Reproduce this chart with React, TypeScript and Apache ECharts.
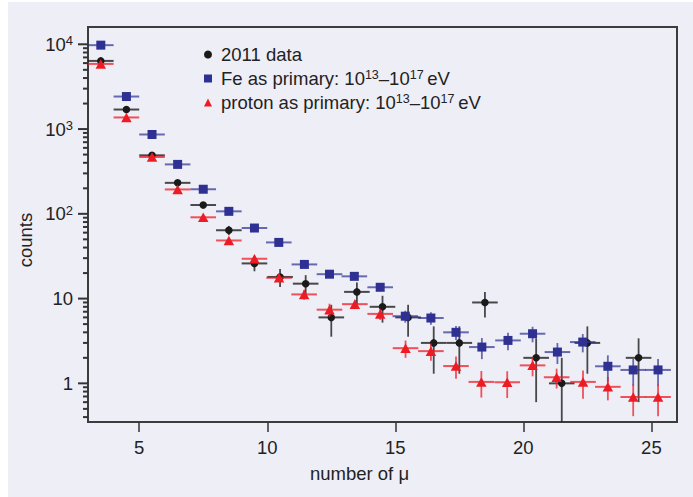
import React, { useEffect, useRef } from 'react';
import * as echarts from 'echarts';

// ---- axis ticks ----
const xTicks = [5, 10, 15, 20, 25];
const yTickExponents = [0, 1, 2, 3, 4];
const yMinorMultipliers = [2, 3, 4, 5, 6, 7, 8, 9];
const yMinorDecades = [-1, 0, 1, 2, 3, 4];
const X_MIN = 3;
const X_MAX = 26;
const Y_MIN = 0.35;
const Y_MAX = 16000;
const BIN_HALF = 0.5;

// ---- 2011 data ----
const dataX = [3.5, 4.5, 5.5, 6.5, 7.5, 8.5, 9.5, 10.5, 11.5, 12.5, 13.5, 14.5, 15.5, 16.5, 17.5, 18.5, 20.5, 21.5, 22.5, 24.5];
const dataY = [6370, 1700, 490, 232, 127, 64, 26, 18, 15, 6, 12, 8, 6, 3, 3, 9, 2, 1, 3, 2];
const dataErr = [80, 41, 22, 15, 11, 8, 5, 4.3, 3.9, 2.45, 3.5, 2.8, 2.45, 1.7, 1.7, 3, 1.4, 1, 1.7, 1.4];

// ---- Fe as primary ----
const feX = [3.5, 4.5, 5.5, 6.5, 7.5, 8.5, 9.5, 10.45, 11.45, 12.43, 13.4, 14.41, 15.39, 16.39, 17.37, 18.38, 19.4, 20.36, 21.33, 22.32, 23.3, 24.29, 25.26];
const feY = [9770, 2420, 863, 383, 195, 107, 68, 46, 25.3, 19.4, 18.3, 13.6, 6.2, 5.9, 4.0, 2.68, 3.21, 3.85, 2.34, 3.07, 1.59, 1.44, 1.44];
const feErr = [30, 15, 9, 6, 4.4, 3.3, 2.6, 2.1, 1.6, 1.4, 1.4, 1.2, 1.0, 1.0, 0.75, 0.75, 0.75, 0.8, 0.65, 0.75, 0.55, 0.5, 0.5];

// ---- proton as primary ----
const prX = [3.5, 4.5, 5.5, 6.5, 7.5, 8.5, 9.5, 10.46, 11.44, 12.43, 13.42, 14.41, 15.4, 16.39, 17.37, 18.36, 19.37, 20.36, 21.3, 22.33, 23.3, 24.29, 25.26];
const prY = [5870, 1371, 468, 194, 91, 48.5, 29.5, 17.6, 11.2, 7.4, 8.6, 6.6, 2.6, 2.4, 1.6, 1.04, 1.03, 1.63, 1.18, 1.04, 0.91, 0.69, 0.69];
const prErr = [25, 12, 7, 4.5, 3, 2.2, 2.5, 1.8, 1.5, 1.3, 1.1, 1.0, 0.6, 0.55, 0.47, 0.36, 0.36, 0.42, 0.31, 0.38, 0.28, 0.28, 0.28];

const NAME_DATA = '2011 data';
const NAME_FE = 'Fe as primary';
const NAME_PR = 'proton as primary';

const FONT = '"Liberation Sans", Arial, sans-serif';
const TEXT_COLOR = '#222';
const TICK_COLOR = '#333';

const lg = (v: number) => Math.log10(v);

function errorSeries(name: string, xs: number[], ys: number[], errs: number[], color: string, z: number) {
  return {
    type: 'custom',
    name,
    silent: true,
    clip: true,
    z,
    encode: { x: 0, y: 1 },
    data: xs.map((x, i) => [
      x,
      lg(ys[i]),
      lg(Math.max(ys[i] - errs[i], Y_MIN * 0.5)),
      lg(ys[i] + errs[i]),
    ]),
    renderItem: (params: any, api: any) => {
      const x = api.value(0);
      const y = api.value(1);
      const lo = api.value(2);
      const hi = api.value(3);
      const pL = api.coord([x - BIN_HALF, y]);
      const pR = api.coord([x + BIN_HALF, y]);
      const pLo = api.coord([x, lo]);
      const pHi = api.coord([x, hi]);
      return {
        type: 'group',
        children: [
          { type: 'line', shape: { x1: pL[0], y1: pL[1], x2: pR[0], y2: pR[1] }, style: { stroke: color, lineWidth: 2 } },
          { type: 'line', shape: { x1: pLo[0], y1: pLo[1], x2: pHi[0], y2: pHi[1] }, style: { stroke: color, lineWidth: 1.8 } },
        ],
      };
    },
  };
}

function markerSeries(name: string, xs: number[], ys: number[], symbol: string, size: any, color: string, z: number) {
  return {
    type: 'scatter',
    name,
    z,
    symbol,
    symbolSize: size,
    itemStyle: { color, opacity: 1 },
    data: xs.map((x, i) => [x, lg(ys[i])]),
  };
}

// y-axis log ticks drawn through the y scale, outward from the left edge
function yTickSeries(name: string, values: number[], len: number) {
  return {
    type: 'custom',
    name,
    silent: true,
    clip: false,
    z: 20,
    encode: { x: 0, y: 1 },
    data: values.map((v) => [X_MIN, v]),
    renderItem: (params: any, api: any) => {
      const c = api.coord([api.value(0), api.value(1)]);
      return {
        type: 'line',
        shape: { x1: c[0] - len, y1: c[1], x2: c[0], y2: c[1] },
        style: { stroke: TICK_COLOR, lineWidth: 2 },
      };
    },
  };
}

const legendRich = {
  t: { fontFamily: FONT, fontSize: 18.5, lineHeight: 20, color: TEXT_COLOR },
  s: { fontFamily: FONT, fontSize: 12.5, lineHeight: 12, color: TEXT_COLOR, verticalAlign: 'top' },
};

const minorVals: number[] = [];
yMinorDecades.forEach((d) => {
  yMinorMultipliers.forEach((m) => {
    const v = m * Math.pow(10, d);
    if (v >= Y_MIN && v <= Y_MAX) minorVals.push(Math.log10(v));
  });
});

export default function App() {
  const ref = useRef<HTMLDivElement>(null);

  useEffect(() => {
    if (!ref.current) return;
    const chart = echarts.init(ref.current, undefined, { renderer: 'svg' });

    const option: any = {
      animation: false,
      backgroundColor: 'transparent',
      grid: {
        left: 88,
        right: 16,
        top: 27,
        bottom: 75,
        show: true,
        borderColor: '#3c3c3c',
        borderWidth: 2,
      },
      legend: {
        orient: 'vertical',
        left: 204,
        top: 45,
        padding: 0,
        itemGap: 4.5,
        itemWidth: 8,
        itemHeight: 8,
        selectedMode: false,
        data: [
          { name: NAME_DATA, icon: 'circle' },
          { name: NAME_FE, icon: 'rect' },
          { name: NAME_PR, icon: 'triangle' },
        ],
        formatter: (name: string) => {
          if (name === NAME_DATA) return '{t|2011 data}';
          return '{t|' + name + ': 10}{s|13}{t|\u201310}{s|17}{t|\u2009eV}';
        },
        textStyle: { padding: [0, 0, 0, 4], rich: legendRich },
      },
      xAxis: {
        type: 'value',
        min: X_MIN,
        max: X_MAX,
        position: 'bottom',
        axisLine: { show: true, onZero: false, lineStyle: { color: '#3c3c3c', width: 2 } },
        splitLine: { show: false },
        axisTick: {
          show: true,
          inside: false,
          length: 10,
          customValues: xTicks,
          lineStyle: { color: TICK_COLOR, width: 1.5 },
        },
        axisLabel: {
          customValues: xTicks,
          margin: 16,
          fontFamily: FONT,
          fontSize: 18.5,
          color: TEXT_COLOR,
        },
      },
      yAxis: {
        type: 'value',
        min: lg(Y_MIN),
        max: lg(Y_MAX),
        position: 'left',
        splitLine: { show: false },
        axisLine: { show: true, onZero: false, lineStyle: { color: '#3c3c3c', width: 2 } },
        axisTick: { show: false },
        axisLabel: {
          customValues: yTickExponents,
          margin: 15,
          formatter: (v: number) => {
            const e = Math.round(v);
            if (e === 0) return '{b|1}';
            if (e === 1) return '{b|10}';
            return '{b|10}{s|' + e + '}';
          },
          rich: {
            b: { fontFamily: FONT, fontSize: 18.5, lineHeight: 20, color: TEXT_COLOR },
            s: { fontFamily: FONT, fontSize: 13, lineHeight: 13, color: TEXT_COLOR, verticalAlign: 'top' },
          },
        },
      },
      graphic: [
        {
          type: 'text',
          x: 25,
          y: 240,
          rotation: Math.PI / 2,
          style: {
            text: 'counts',
            align: 'center',
            verticalAlign: 'middle',
            fontFamily: FONT,
            fontSize: 18.5,
            fill: TEXT_COLOR,
          },
        },
        {
          type: 'text',
          x: 359.5,
          y: 473,
          style: {
            text: 'number of \u03bc',
            align: 'center',
            verticalAlign: 'middle',
            fontFamily: FONT,
            fontSize: 18.5,
            fill: TEXT_COLOR,
          },
        },
      ],
      series: [
        yTickSeries('y major ticks', yTickExponents, 10),
        yTickSeries('y minor ticks', minorVals, 5),
        errorSeries('2011 data errors', dataX, dataY, dataErr, 'rgba(30,30,30,0.8)', 2),
        markerSeries(NAME_DATA, dataX, dataY, 'circle', 7.5, '#1a1a1a', 3),
        errorSeries('Fe errors', feX, feY, feErr, 'rgba(46,49,146,0.7)', 4),
        markerSeries(NAME_FE, feX, feY, 'rect', 9, '#2e3192', 5),
        errorSeries('proton errors', prX, prY, prErr, 'rgba(237,28,36,0.75)', 6),
        markerSeries(NAME_PR, prX, prY, 'triangle', [10.5, 9.5], '#ed1c24', 7),
      ],
    };

    chart.setOption(option);
    return () => chart.dispose();
  }, []);

  return (
    <div style={{ position: 'fixed', left: 0, top: 0, width: 693, height: 497, background: '#ffffff' }}>
      <div style={{ position: 'absolute', left: 8, top: 2, width: 685, height: 495, background: '#eeeef7' }} />
      <div ref={ref} style={{ position: 'absolute', left: 0, top: 0, width: 693, height: 497 }} />
    </div>
  );
}
